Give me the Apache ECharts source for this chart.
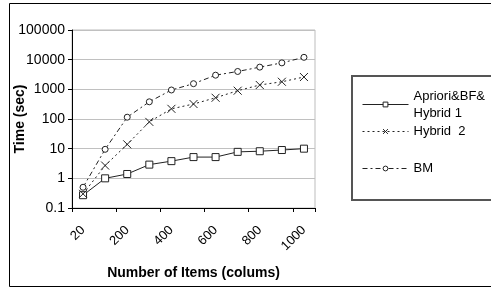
<!DOCTYPE html>
<html>
<head>
<meta charset="utf-8">
<script src="https://cdn.jsdelivr.net/npm/echarts@6/dist/echarts.min.js"></script>
<style>
  html, body { margin: 0; padding: 0; background: #fff; }
  #chart { width: 491px; height: 288px; }
</style>
</head>
<body>
<div id="chart"></div>
<script>
// values
var categories = ['20', '100', '200', '300', '400', '500', '600', '700', '800', '900', '1000'];
var apriori = [0.27, 1, 1.4, 2.9, 3.8, 5.2, 5.2, 7.8, 8.2, 9, 10];
var hybrid2 = [0.3, 2.7, 14, 80, 220, 320, 520, 900, 1400, 1800, 2600];
var bm = [0.5, 9.5, 115, 380, 950, 1550, 3000, 4000, 5600, 7800, 12000];
var seriesNames = ['Apriori&BF& Hybrid 1', 'Hybrid  2', 'BM'];

var font = 'Liberation Sans, Arial, sans-serif';
var ink = '#222';
var markStyle = { color: '#fff', borderColor: ink, borderWidth: 1 };

function legendFor(name, top, extra) {
  return Object.assign({
    data: [name],
    left: 362,
    top: top,
    padding: 0,
    itemWidth: 46,
    itemHeight: 6,
    lineStyle: { width: 1 },
    itemStyle: { borderWidth: 1 },
    textStyle: { fontFamily: font, fontSize: 13, color: '#000' }
  }, extra || {});
}

var chart = echarts.init(document.getElementById('chart'));
chart.setOption({
  animation: false,
  backgroundColor: '#fff',
  textStyle: { fontFamily: font },
  grid: {
    left: 72,
    top: 30,
    right: 176,
    bottom: 80,
    show: true,
    borderColor: '#bdbdbd',
    borderWidth: 1
  },
  graphic: [
    {
      type: 'rect',
      shape: { x: 9.5, y: 3.5, width: 500, height: 283 },
      style: { fill: 'none', stroke: '#000', lineWidth: 1 },
      silent: true
    },
    {
      type: 'rect',
      shape: { x: 352, y: 76, width: 160, height: 124 },
      style: { fill: 'none', stroke: '#555', lineWidth: 2 },
      silent: true
    }
  ],
  legend: [
    legendFor(seriesNames[0], 79, {
      formatter: function () { return 'Apriori&BF&\nHybrid 1'; },
      textStyle: { fontFamily: font, fontSize: 13, color: '#000', lineHeight: 17, padding: [17, 0, 0, 0] }
    }),
    legendFor(seriesNames[1], 125),
    legendFor(seriesNames[2], 162)
  ],
  xAxis: {
    type: 'category',
    data: categories,
    boundaryGap: true,
    name: 'Number of Items (colums)',
    nameLocation: 'middle',
    nameGap: 58,
    nameMoveOverlap: false,
    nameTextStyle: { fontFamily: font, fontSize: 14, fontWeight: 'bold', color: '#000' },
    axisLine: { lineStyle: { color: '#000', width: 1 } },
    axisTick: { show: true, length: 4, lineStyle: { color: '#000' } },
    axisLabel: {
      interval: 1,
      rotate: 45,
      fontSize: 13,
      color: '#000',
      margin: 20
    },
    splitLine: { show: false }
  },
  yAxis: {
    type: 'log',
    logBase: 10,
    min: 0.1,
    max: 100000,
    splitNumber: 6,
    name: 'Time (sec)',
    nameLocation: 'middle',
    nameGap: 45,
    nameMoveOverlap: false,
    nameTextStyle: { fontFamily: font, fontSize: 14, fontWeight: 'bold', color: '#000' },
    axisLine: { show: true, lineStyle: { color: '#000', width: 1 } },
    axisTick: { show: true, length: 4, lineStyle: { color: '#000' } },
    axisLabel: {
      fontSize: 14,
      color: '#000',
      margin: 7,
      formatter: function (v) { return String(+v.toPrecision(6)); }
    },
    splitLine: { show: true, lineStyle: { color: '#c0c0c0', width: 1 } },
    minorTick: { show: false }
  },
  series: [
    {
      name: seriesNames[0],
      type: 'line',
      data: apriori,
      symbol: 'rect',
      symbolSize: 7,
      showAllSymbol: true,
      itemStyle: markStyle,
      lineStyle: { color: ink, width: 1, type: 'solid' }
    },
    {
      name: seriesNames[1],
      type: 'line',
      data: hybrid2,
      symbol: 'path://M0,0L10,10M0,10L10,0',
      symbolSize: 8,
      showAllSymbol: true,
      itemStyle: markStyle,
      lineStyle: { color: ink, width: 1, type: [2, 3] }
    },
    {
      name: seriesNames[2],
      type: 'line',
      data: bm,
      symbol: 'circle',
      symbolSize: 6,
      showAllSymbol: true,
      itemStyle: markStyle,
      lineStyle: { color: ink, width: 1, type: [5, 3, 2, 3] }
    }
  ]
});
</script>
</body>
</html>
